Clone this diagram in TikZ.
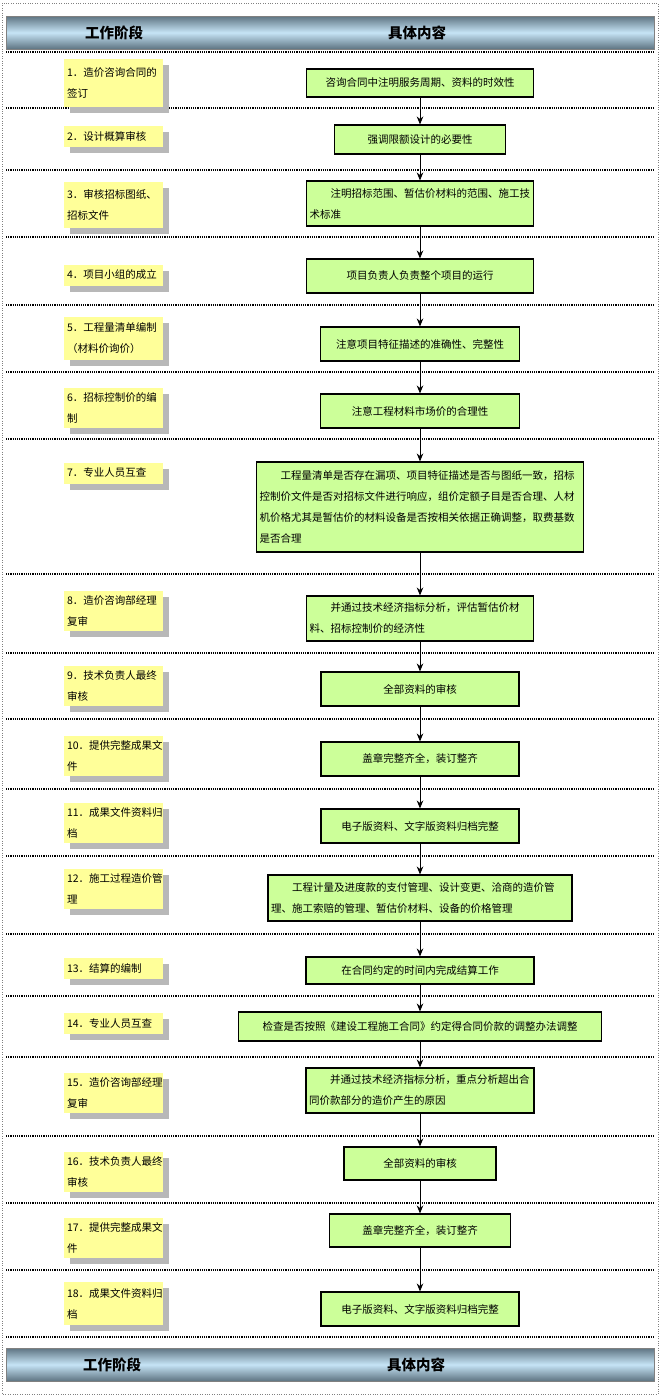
\documentclass[tikz,border=0pt]{standalone}
\usepackage{fontspec}
\setmainfont{Noto Sans CJK SC}
\usetikzlibrary{arrows.meta, shadows}
\definecolor{stagefill}{HTML}{FFFF99}
\definecolor{taskfill}{HTML}{CCFF99}
\definecolor{bandedge}{HTML}{5E7482}
\definecolor{bandmid}{HTML}{C6E4F6}
\tikzset{
x=1pt, y=-1pt, % one unit is one pixel of the layout, y grows downwards
>={Stealth[length=8pt, width=6.5pt]}, % filled arrow heads
stage/.style={fill=stagefill, minimum width=99pt, text width=93pt, inner sep=3pt, align=left, minimum height=21pt, font=\fontsize{10.5}{21}\selectfont, drop shadow={shadow xshift=6pt, shadow yshift=-6pt, fill=black!28, opacity=1}}, % yellow stage labels
task/.style={draw, line width=1.1pt, fill=taskfill, inner sep=3pt, font=\fontsize{10.5}{21}\selectfont}, % green content boxes
band/.style={draw=gray, top color=bandedge, bottom color=bandedge, middle color=bandmid, minimum width=648pt, minimum height=33pt}, % header bars
bandtext/.style={font=\fontsize{14.5}{16}\selectfont\bfseries},
rowline/.style={densely dotted, line width=1.2pt, black},
}
\begin{document}
\begin{tikzpicture}
    \useasboundingbox (0,0) rectangle (660,1398);
    \draw[gray, dotted] (2,3) rectangle (658,1394);

    % header bars
    \node[band] (hdtop) at (330,32.5) {};
    \node[bandtext] (hdstage) at (114,32.5) {工作阶段};
    \node[bandtext] (hdtask) at (417,32.5) {具体内容};
    \node[band] (hdbot) at (330,1364.5) {};
    \node[bandtext] (ftstage) at (112,1364.5) {工作阶段};
    \node[bandtext] (fttask) at (416,1364.5) {具体内容};

    % row separators
    \draw[rowline] (6,52) -- (654,52) (6,108) -- (654,108) (6,170) -- (654,170)
    (6,237) -- (654,237) (6,305) -- (654,305) (6,372) -- (654,372)
    (6,439) -- (654,439) (6,574) -- (654,574) (6,653) -- (654,653)
    (6,719) -- (654,719) (6,789) -- (654,789) (6,856) -- (654,856)
    (6,934) -- (654,934) (6,996) -- (654,996) (6,1057) -- (654,1057)
    (6,1136) -- (654,1136) (6,1203) -- (654,1203) (6,1270) -- (654,1270)
    (6,1337) -- (654,1337);

    % stages
    \node[stage, minimum height=48pt] (s1) at (113.5,83) {1．造价咨询合同的\\签订};
    \node[stage] (s2) at (113.5,136.5) {2．设计概算审核};
    \node[stage, minimum height=46pt] (s3) at (113.5,205) {3．审核招标图纸、\\招标文件};
    \node[stage] (s4) at (113.5,275) {4．项目小组的成立};
    \node[stage, minimum height=43pt] (s5) at (113.5,338.5) {5．工程量清单编制\\（材料价询价）};
    \node[stage, minimum height=40pt] (s6) at (113.5,408) {6．招标控制价的编\\制};
    \node[stage] (s7) at (113.5,473) {7．专业人员互查};
    \node[stage, minimum height=40pt] (s8) at (113.5,610.5) {8．造价咨询部经理\\复审};
    \node[stage, minimum height=40pt] (s9) at (113.5,686) {9．技术负责人最终\\审核};
    \node[stage, minimum height=40pt] (s10) at (113.5,756) {10．提供完整成果文\\件};
    \node[stage, minimum height=40pt] (s11) at (113.5,822.5) {11．成果文件资料归\\档};
    \node[stage, minimum height=40pt] (s12) at (113.5,889) {12．施工过程造价管\\理};
    \node[stage] (s13) at (113.5,968) {13．结算的编制};
    \node[stage] (s14) at (113.5,1023.5) {14．专业人员互查};
    \node[stage, minimum height=40pt] (s15) at (113.5,1093) {15．造价咨询部经理\\复审};
    \node[stage, minimum height=40pt] (s16) at (113.5,1172) {16．技术负责人最终\\审核};
    \node[stage, minimum height=40pt] (s17) at (113.5,1238) {17．提供完整成果文\\件};
    \node[stage, minimum height=43pt] (s18) at (113.5,1303.5) {18．成果文件资料归\\档};

    % contents
    \node[task, minimum width=227pt, minimum height=28pt] (t1) at (420,83) {咨询合同中注明服务周期、资料的时效性};
    \node[task, minimum width=171pt, minimum height=29pt] (t2) at (420,139.5) {强调限额设计的必要性};
    \node[task, minimum height=45pt, text width=221pt, align=left] (t3) at (420,203.5) {\hspace*{2em}注明招标范围、暂估价材料的范围、施工技\\术标准};
    \node[task, minimum width=227pt, minimum height=34pt] (t4) at (420,276) {项目负责人负责整个项目的运行};
    \node[task, minimum width=199pt, minimum height=34pt] (t5) at (420,344) {注意项目特征描述的准确性、完整性};
    \node[task, minimum width=199pt, minimum height=34pt] (t6) at (420,411) {注意工程材料市场价的合理性};
    \node[task, minimum height=90pt, text width=321pt, align=left] (t7) at (420,507) {\hspace*{2em}工程量清单是否存在漏项、项目特征描述是否与图纸一致，招标\\控制价文件是否对招标文件进行响应，组价定额子目是否合理、人材\\机价格尤其是暂估价的材料设备是否按相关依据正确调整，取费基数\\是否合理};
    \node[task, minimum height=45pt, text width=221pt, align=left] (t8) at (420,618.5) {\hspace*{2em}并通过技术经济指标分析，评估暂估价材\\料、招标控制价的经济性};
    \node[task, minimum width=198pt, minimum height=34pt] (t9) at (420,689) {全部资料的审核};
    \node[task, minimum width=198pt, minimum height=34pt] (t10) at (420,759) {盖章完整齐全，装订整齐};
    \node[task, minimum width=198pt, minimum height=34pt] (t11) at (420,826) {电子版资料、文字版资料归档完整};
    \node[task, minimum height=46pt, text width=298pt, align=left] (t12) at (420,898) {\hspace*{2em}工程计量及进度款的支付管理、设计变更、洽商的造价管\\理、施工索赔的管理、暂估价材料、设备的价格管理};
    \node[task, minimum width=228pt, minimum height=27pt] (t13) at (420,970.5) {在合同约定的时间内完成结算工作};
    \node[task, minimum width=363pt, minimum height=29pt] (t14) at (420,1026.5) {检查是否按照《建设工程施工合同》约定得合同价款的调整办法调整};
    \node[task, minimum height=45pt, text width=222pt, align=left] (t15) at (420,1090.5) {\hspace*{2em}并通过技术经济指标分析，重点分析超出合\\同价款部分的造价产生的原因};
    \node[task, minimum width=152pt, minimum height=33pt] (t16) at (420,1163.5) {全部资料的审核};
    \node[task, minimum width=181pt, minimum height=33pt] (t17) at (420,1230.5) {盖章完整齐全，装订整齐};
    \node[task, minimum width=198pt, minimum height=34pt] (t18) at (420,1309) {电子版资料、文字版资料归档完整};

    \draw[->, line width=0.8pt] (t1) edge (t2)
    (t2) edge (t3) (t3) edge (t4) (t4) edge (t5) (t5) edge (t6)
    (t6) edge (t7) (t7) edge (t8) (t8) edge (t9) (t9) edge (t10)
    (t10) edge (t11) (t11) edge (t12) (t12) edge (t13) (t13) edge (t14)
    (t14) edge (t15) (t15) edge (t16) (t16) edge (t17) (t17) edge (t18);
\end{tikzpicture}
\end{document}
